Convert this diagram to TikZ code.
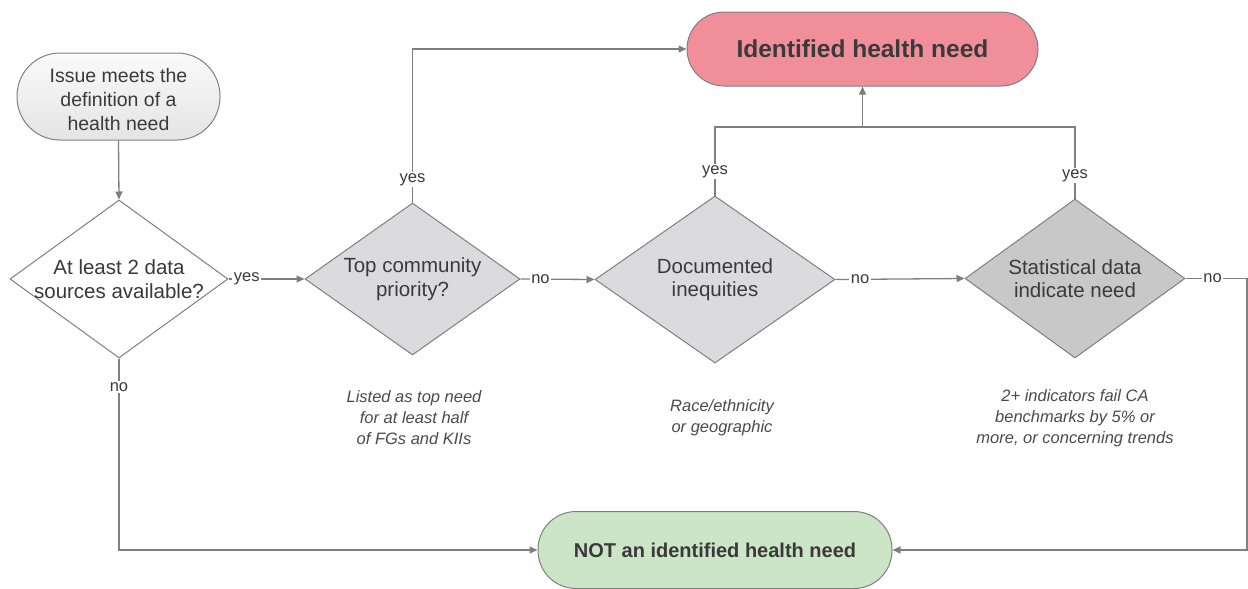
\documentclass[tikz,border=0pt]{standalone}
\usepackage{fontspec}
\setmainfont{Liberation Sans}
\usetikzlibrary{shapes.geometric,arrows.meta}
\definecolor{edgec}{HTML}{7F7F7F}
\definecolor{txtc}{HTML}{3A3A3A}
\definecolor{notec}{HTML}{4A4A4A}
\definecolor{pinkc}{HTML}{F08F99}
\definecolor{greenc}{HTML}{CCE5C6}
\definecolor{grayA}{HTML}{DBDBDD}
\definecolor{grayB}{HTML}{C8C8C8}
\definecolor{startT}{HTML}{FAFAFA}
\definecolor{startB}{HTML}{E4E4E4}
\begin{document}
\begin{tikzpicture}[x=1pt,y=-1pt,
  line width=1.3pt,
  pill/.style={draw=edgec,line width=1pt,rectangle,inner sep=0pt,text=txtc,align=center},
  dia/.style={draw=edgec,line width=1pt,diamond,inner sep=0pt,minimum width=218pt,minimum height=158pt},
  dtext/.style={text=txtc,align=center,font=\fontsize{20.5}{23.5}\selectfont},
  stext/.style={text=txtc,align=center,yshift=-3pt,font=\fontsize{19.5}{24}\selectfont},
  conn/.style={draw=edgec,line width=1.3pt},
  arr/.style={conn,-{Triangle[length=8pt,width=7pt]}},
  lbl/.style={fill=white,inner sep=1.5pt,text=txtc,font=\fontsize{16.5}{18}\selectfont},
  note/.style={text=notec,align=center,font=\fontsize{16.5}{21}\selectfont\itshape}
]
\useasboundingbox (0,0) rectangle (1248,589);

\node[pill,top color=startT,bottom color=startB,minimum width=203pt,minimum height=87pt,rounded corners=43pt,
  label={[stext]center:{Issue meets the\\definition of a\\health need}}] (start) at (118.5,96.5) {};

\node[pill,fill=pinkc,minimum width=351pt,minimum height=74pt,rounded corners=37pt,
  font=\fontsize{24.5}{28}\selectfont\bfseries] (ident) at (862.5,49) {Identified health need};

\node[pill,fill=greenc,minimum width=354pt,minimum height=77pt,rounded corners=38pt,
  font=\fontsize{20}{24}\selectfont\bfseries] (notn) at (715,550) {NOT an identified health need};

\node[dia,fill=white,label={[dtext]center:{At least 2 data\\sources available?}}] (d1) at (119,279) {};
\node[dia,fill=grayA,minimum width=215pt,minimum height=152pt,label={[dtext]center:{Top community\\priority?}}] (d2) at (412.5,279) {};
\node[dia,fill=grayA,minimum width=240pt,minimum height=167pt,label={[dtext]center:{Documented\\inequities}}] (d3) at (715,279.5) {};
\node[dia,fill=grayB,minimum width=220pt,minimum height=159pt,label={[dtext]center:{Statistical data\\indicate need}}] (d4) at (1075,278.5) {};

\node[note] (n2) at (414,418) {Listed as top need\\for at least half\\of FGs and KIIs};
\node[note] (n3) at (722,417.5) {Race/ethnicity\\or geographic};
\node[note] (n4) at (1075,418.5) {2+ indicators fail CA\\benchmarks by 5\% or\\more, or concerning trends};

\coordinate (j) at (862.5,127);
\coordinate (r) at (1247,550);

\draw[arr] (start.south) -- (d1.north);
\draw[arr] (d1.east) -- node[lbl,pos=0.24]{yes} (d2.west);
\draw[arr] (d2.north) -- node[lbl,pos=0.15]{yes} (d2.north |- ident.west) -- (ident.west);
\draw[arr] (d2.east) -- node[lbl,pos=0.27]{no} (d3.west);
\draw[arr] (d3.east) -- node[lbl,pos=0.19]{no} (d4.west);
\draw[conn] (d3.north) -- node[lbl,pos=0.35]{yes} (d3.north |- j) -- (j);
\draw[conn] (d4.north) -- node[lbl,pos=0.32]{yes} (d4.north |- j) -- (j);
\draw[arr] (j) -- (ident.south);
\draw[arr] (d4.east) -- node[lbl,pos=0.44]{no} (d4.east -| r) -- (r) -- (notn.east);
\draw[arr] (d1.south) -- node[lbl,pos=0.15]{no} (d1.south |- notn.west) -- (notn.west);
\end{tikzpicture}
\end{document}
